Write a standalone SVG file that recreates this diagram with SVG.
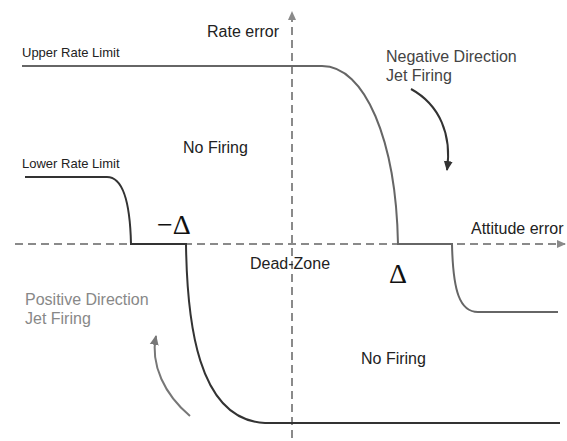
<svg xmlns="http://www.w3.org/2000/svg" width="567" height="441" viewBox="0 0 567 441">
<style>
.ax{stroke:#8a8a8a;stroke-width:2;stroke-dasharray:8,5;fill:none}
.dk{stroke:#333;stroke-width:2;fill:none}
.gr{stroke:#666;stroke-width:2;fill:none}
text{font-family:"Liberation Sans",Arial,sans-serif;fill:#222}
.sm{font-size:13px}
.md{font-size:16px}
.dl{font-family:"Liberation Serif","Times New Roman",serif;font-size:28px;fill:#111}
</style>
<defs>
<marker id="axh" markerWidth="10" markerHeight="10" refX="8" refY="5" orient="auto" markerUnits="userSpaceOnUse">
<path d="M0,1 L9,5 L0,9 Z" fill="#8a8a8a"/>
</marker>
<marker id="dkh" markerWidth="12" markerHeight="12" refX="9" refY="6" orient="auto" markerUnits="userSpaceOnUse">
<path d="M0,1.5 L10,6 L0,10.5 Z" fill="#333"/>
</marker>
<marker id="grh" markerWidth="12" markerHeight="12" refX="9" refY="6" orient="auto" markerUnits="userSpaceOnUse">
<path d="M0,1.5 L10,6 L0,10.5 Z" fill="#777"/>
</marker>
</defs>
<rect width="567" height="441" fill="#fff"/>
<g id="axes">
<path class="ax" d="M292,438 L292,12" marker-end="url(#axh)"/>
<path class="ax" d="M15,244 L565,244" marker-end="url(#axh)"/>
</g>
<g id="connectors">
<path id="upper-curve" class="gr" d="M22,66 L322,66 C365,66 396,140 398,244 L452,244 C453,292 460,312 478,312 L558,312"/>
<path id="lower-curve" class="dk" d="M25,177 L107,177 C122,177 130,200 131,244 L186,244 C187,320 197,420 265,423 L560,423"/>
<path id="neg-arrow" class="dk" d="M411,89 C440,105 452,135 447,170" marker-end="url(#dkh)"/>
<path id="pos-arrow" stroke="#777" stroke-width="2" fill="none" d="M190,416 C165,395 150,365 156,336" marker-end="url(#grh)"/>
</g>
<g id="labels">
<text class="md" x="207" y="37">Rate error</text>
<text class="sm" x="22" y="57">Upper Rate Limit</text>
<text class="sm" x="22" y="168">Lower Rate Limit</text>
<text class="md" x="183" y="153">No Firing</text>
<text class="md" x="386" y="62" style="fill:#444">Negative Direction</text>
<text class="md" x="386" y="81" style="fill:#444">Jet Firing</text>
<text class="md" x="471" y="234">Attitude error</text>
<text class="dl" x="157" y="234">−Δ</text>
<text class="dl" x="389" y="283">Δ</text>
<text class="md" x="250" y="269">Dead-Zone</text>
<text class="md" x="25" y="305" style="fill:#888">Positive Direction</text>
<text class="md" x="25" y="324" style="fill:#888">Jet Firing</text>
<text class="md" x="361" y="364">No Firing</text>
</g>
</svg>
